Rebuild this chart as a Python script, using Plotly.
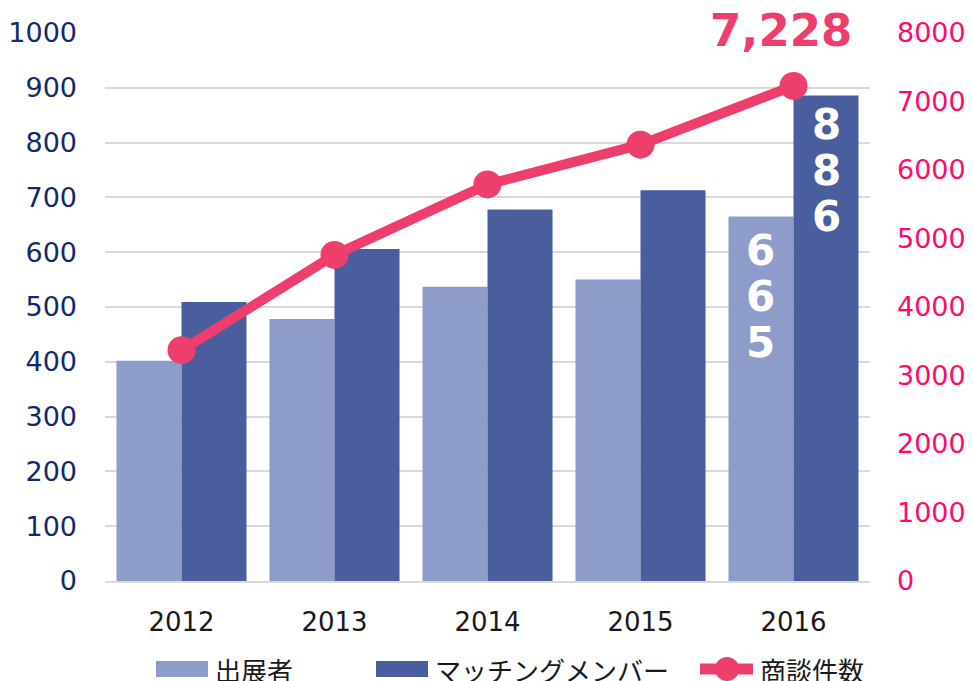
import plotly.graph_objects as go

years = ["2012", "2013", "2014", "2015", "2016"]
exhibitors = [402, 478, 537, 550, 665]
matching = [509, 606, 678, 713, 886]
meetings = [3370, 4760, 5790, 6370, 7228]
series_names = ["出展者", "マッチングメンバー", "商談件数"]

light = "#8E9CCA"
dark = "#4A5E9E"
pink = "#EE3E6C"
navy = "#13296B"
rpink = "#FF0A6C"
txt = "#1A1A1A"

xs = list(range(len(years)))

fig = go.Figure()
fig.add_trace(go.Bar(x=xs, y=exhibitors, name=series_names[0], marker_color=light,
                     marker_line_width=0, showlegend=False))
fig.add_trace(go.Bar(x=xs, y=matching, name=series_names[1], marker_color=dark,
                     marker_line_width=0, showlegend=False))
fig.add_trace(go.Scatter(x=xs, y=meetings, name=series_names[2], yaxis="y2",
                         mode="lines+markers", showlegend=False,
                         line=dict(color=pink, width=10),
                         marker=dict(color=pink, size=28)))

# vertical digit labels inside the 2016 bars
digit_font = dict(family="DejaVu Sans", size=42, color="white", weight="bold")
for val, xsh, top in [(exhibitors[-1], -33, 34), (matching[-1], 33, 29)]:
    for i, d in enumerate(str(val)):
        fig.add_annotation(x=xs[-1], y=val, xref="x", yref="y", xshift=xsh,
                           yshift=-(top + 46 * i), text=d, showarrow=False,
                           yanchor="middle", font=digit_font)

fig.add_annotation(x=xs[-1], y=meetings[-1], xref="x", yref="y2", xshift=-13,
                   text=f"{meetings[-1]:,}", showarrow=False, yanchor="middle", yshift=55,
                   font=dict(family="DejaVu Sans", size=45, color=pink, weight="bold"))

# custom legend (paper coordinates: x 0..1 -> 105..870 px, y 0..1 -> 581..33 px)
W, H, X0, Y0 = 765.0, 548.0, 105.0, 581.0
px = lambda p: (p - X0) / W
py = lambda p: (Y0 - p) / H
leg_y = 669
leg_font = dict(family="Noto Sans CJK JP", size=26, color=txt)
fig.add_shape(type="rect", xref="paper", yref="paper", x0=px(156), x1=px(208),
              y0=py(661), y1=py(677), fillcolor=light, line_width=0)
fig.add_shape(type="rect", xref="paper", yref="paper", x0=px(376), x1=px(428),
              y0=py(661), y1=py(677), fillcolor=dark, line_width=0)
fig.add_shape(type="line", xref="paper", yref="paper", x0=px(700), x1=px(753),
              y0=py(leg_y), y1=py(leg_y), line=dict(color=pink, width=11))
fig.add_shape(type="circle", xref="paper", yref="paper", x0=px(715), x1=px(739),
              y0=py(leg_y + 12), y1=py(leg_y - 12), fillcolor=pink, line_width=0)
for name, start in zip(series_names, [213, 433, 758]):
    fig.add_annotation(x=px(start), y=py(leg_y), xref="paper", yref="paper",
                       text=name, showarrow=False, xanchor="left", yanchor="middle",
                       font=leg_font)

# page body has an 8px margin, so the figure is 8px smaller and shifted
fig.update_layout(
    width=965, height=673,
    margin=dict(l=97, r=103, t=25, b=100),
    paper_bgcolor="white", plot_bgcolor="white",
    barmode="group", bargap=0.15, bargroupgap=0,
    font=dict(family="DejaVu Sans", size=26, color=txt),
    xaxis=dict(range=[-0.5, 4.5], tickvals=xs, ticktext=years, automargin=False,
               showline=True, linecolor="#D9D9D9", linewidth=2, showgrid=False,
               zeroline=False, ticks="", ticklabelstandoff=17,
               tickfont=dict(size=26, color=txt)),
    yaxis=dict(range=[0, 1000], dtick=100, showgrid=True, gridcolor="#D9D9D9",
               gridwidth=2, zeroline=False, ticks="", ticklabelstandoff=27,
               automargin=False, tickfont=dict(size=27, color=navy)),
    yaxis2=dict(range=[0, 8000], dtick=1000, overlaying="y", side="right",
                showgrid=False, zeroline=False, ticks="", ticklabelstandoff=26,
                automargin=False, tickfont=dict(size=27, color=rpink)),
    showlegend=False,
)

fig.write_html("out.html")
